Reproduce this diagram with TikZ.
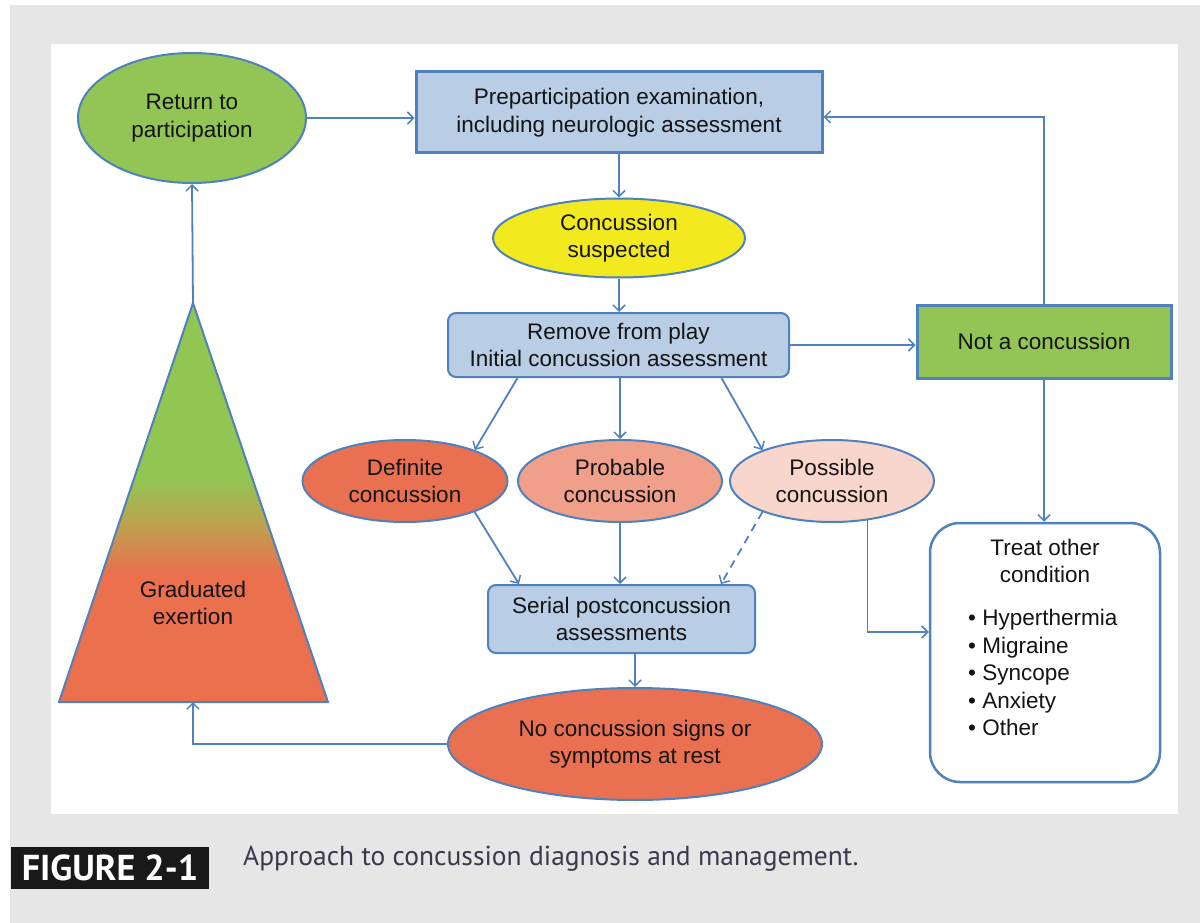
\documentclass[tikz,border=0pt]{standalone}
\usepackage{fontspec}
\setmainfont{Liberation Sans}
\newfontfamily\capfont{PT Sans}
\usetikzlibrary{arrows.meta,shapes.geometric,calc}
\definecolor{bord}{HTML}{4F81BD}
\definecolor{boxfill}{HTML}{B9CDE5}
\definecolor{grn}{HTML}{92C555}
\definecolor{yel}{HTML}{F2EA1E}
\definecolor{defc}{HTML}{E97050}
\definecolor{probc}{HTML}{F0A08A}
\definecolor{possc}{HTML}{F9D6CC}
\definecolor{bggrey}{HTML}{E6E6E6}
\definecolor{captxt}{HTML}{3A3A4A}
\definecolor{triorange}{HTML}{EA704E}
\definecolor{trigreen}{HTML}{92C653}
\definecolor{trimid}{HTML}{BFA04E}
\pgfdeclareverticalshading{trishade}{100bp}{color(0bp)=(triorange); color(41bp)=(triorange); color(47bp)=(trimid); color(53bp)=(trigreen); color(100bp)=(trigreen)}
\begin{document}
\begin{tikzpicture}[x=1pt,y=-1pt,
  every node/.style={font=\fontsize{22.5}{27.5}\selectfont, text=black!92, align=center},
  flowbox/.style={draw=bord, fill=boxfill, line width=2pt, inner sep=0pt},
  oval/.style={ellipse, draw=bord, line width=2pt, inner sep=0pt},
  conn/.style={draw=bord, line width=1.8pt, -{Straight Barb[length=6pt,width=12pt,line width=1.5pt]}}
]
\useasboundingbox (0,0) rectangle (1200,923);
\fill[white] (0,0) rectangle (1200,923);
\fill[bggrey] (10,5) rectangle (1200,923);
\fill[white] (51,44) rectangle (1178,814);

% triangle
\coordinate (triapex) at (193,303);
\coordinate (tribase) at (193,702);
\shade[shading=trishade, draw=bord, line width=2pt, line join=round] (triapex) -- (328,702) -- (59,702) -- cycle;
\node (tritext) at (193,603) {Graduated\\exertion};

% nodes
\node[oval, fill=grn, minimum width=228pt, minimum height=130pt] (ret) at (192,118) {Return to\\participation};
\node[flowbox, line width=3pt, minimum width=406pt, minimum height=81pt] (prep) at (619,112.5) {Preparticipation examination,\\including neurologic assessment};
\node[oval, fill=yel, minimum width=252pt, minimum height=79pt] (cs) at (619,238) {Concussion\\suspected};
\node[flowbox, rounded corners=8pt, minimum width=341pt, minimum height=64pt] (remove) at (618.5,345) {Remove from play\\Initial concussion assessment};
\node[flowbox, fill=grn, line width=3pt, minimum width=254pt, minimum height=73pt] (nac) at (1044,341.5) {Not a concussion};
\node[oval, fill=defc, minimum width=205pt, minimum height=82pt] (def) at (405,481) {Definite\\concussion};
\node[oval, fill=probc, minimum width=204pt, minimum height=82pt] (prob) at (620,481) {Probable\\concussion};
\node[oval, fill=possc, minimum width=204pt, minimum height=82pt] (poss) at (832,481) {Possible\\concussion};
\node[flowbox, rounded corners=8pt, minimum width=267pt, minimum height=68pt] (serial) at (621.5,619) {Serial postconcussion\\assessments};
\node[oval, fill=defc, minimum width=374pt, minimum height=112pt] (noc) at (635,744) {No concussion signs or\\symptoms at rest};
\node[draw=bord, fill=white, line width=2.5pt, rounded corners=30pt, minimum width=230pt, minimum height=259pt, inner sep=0pt] (treat) at (1045,652.5) {};
\node (treattitle) at (1045,561) {Treat other\\condition};
\node[anchor=north west, align=left, inner sep=0pt] (treatlist) at (968,609) {\textbullet\ Hyperthermia\\\textbullet\ Migraine\\\textbullet\ Syncope\\\textbullet\ Anxiety\\\textbullet\ Other};

% connectors
\draw[conn] (ret.east) -- (ret.east -| prep.west);
\draw[conn, line width=1.5pt] (prep.south -| cs.north) -- (cs.north);
\draw[conn] (cs.south) -- (cs.south |- remove.north);
\draw[conn] (remove.east) -- (remove.east -| nac.west);
\draw[conn] (nac.north) |- ([yshift=-4.5pt]prep.east);
\draw[conn] (nac.south) -- (nac.south |- treat.north);
\draw[conn] ([xshift=-101pt]remove.south) -- (def.24);
\draw[conn] (remove.south -| prob.north) -- (prob.north);
\draw[conn] ([xshift=103pt]remove.south) -- (poss.156);
\draw[conn] (def.-24) -- ([xshift=32pt]serial.north west);
\draw[conn] (prob.south) -- (prob.south |- serial.north);
\draw[conn, dashed, dash pattern=on 8pt off 6pt] (poss.204) -- ([xshift=-35pt]serial.north east);
\draw[conn] (poss.-48) |- (treat.west |- 0,632);
\draw[conn] (serial.south -| noc.north) -- (noc.north);
\draw[conn] (noc.west) -| (tribase);
\draw[conn] (triapex) -- (ret.south);

% caption
\node[fill=black!90, text=white, font=\capfont\bfseries\fontsize{36}{38}\selectfont, minimum width=198pt, minimum height=42pt, inner sep=0pt] (figlabel) at (110,868) {FIGURE 2-1};
\node[anchor=west, text=captxt, font=\capfont\fontsize{27.5}{30}\selectfont, inner sep=0pt] (caption) at (243,859) {Approach to concussion diagnosis and management.};
\end{tikzpicture}
\end{document}
